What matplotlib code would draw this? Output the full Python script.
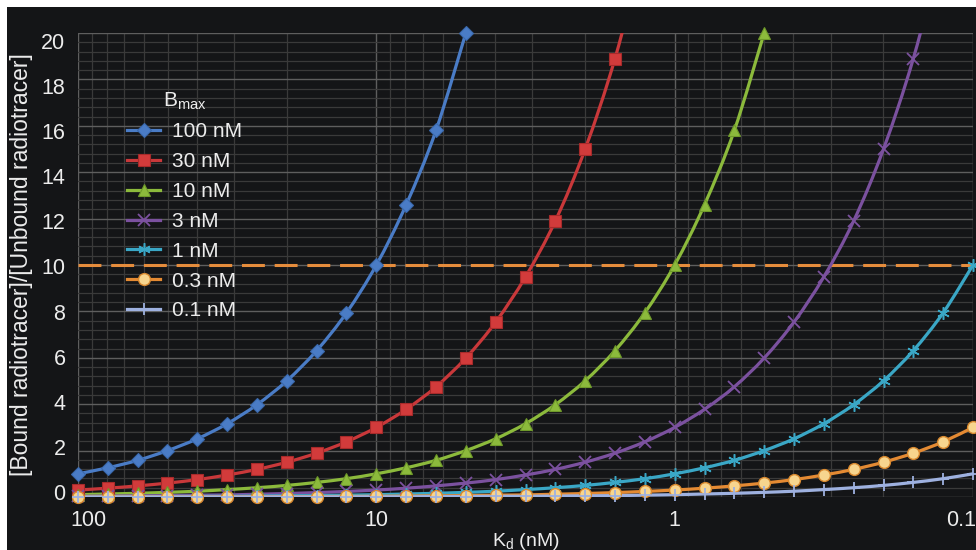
import matplotlib
matplotlib.use('Agg')
import numpy as np
import matplotlib.pyplot as plt
import matplotlib.transforms as mtransforms
from matplotlib.path import Path
from matplotlib.patches import PathPatch
from matplotlib.lines import Line2D
from matplotlib.ticker import LogLocator, MultipleLocator, FixedLocator, NullFormatter

# Kd 值（nM），每十倍程10个点
kd = [100, 79.43, 63.10, 50.12, 39.81, 31.62, 25.12, 19.95, 15.85, 12.59,
      10, 7.943, 6.310, 5.012, 3.981, 3.162, 2.512, 1.995, 1.585, 1.259,
      1, 0.7943, 0.6310, 0.5012, 0.3981, 0.3162, 0.2512, 0.1995, 0.1585, 0.1259, 0.1]

# [Bound]/[Unbound] 读数
b100 = [1.00, 1.26, 1.58, 2.00, 2.51, 3.16, 3.98, 5.01, 6.31, 7.94, 10.0, 12.6, 15.8, 20.0]
b30 = [0.30, 0.38, 0.48, 0.60, 0.75, 0.95, 1.19, 1.50, 1.89, 2.38, 3.00, 3.78, 4.75, 5.99,
       7.54, 9.49, 11.9, 15.0, 18.9, 23.8]
b10 = [0.10, 0.13, 0.16, 0.20, 0.25, 0.32, 0.40, 0.50, 0.63, 0.79, 1.00, 1.26, 1.58, 2.00,
       2.51, 3.16, 3.98, 5.01, 6.31, 7.94, 10.0, 12.6, 15.8, 20.0]
b3 = [0.03, 0.04, 0.05, 0.06, 0.08, 0.09, 0.12, 0.15, 0.19, 0.24, 0.30, 0.38, 0.48, 0.60,
      0.75, 0.95, 1.19, 1.50, 1.89, 2.38, 3.00, 3.78, 4.75, 5.99, 7.54, 9.49, 11.9, 15.0,
      18.9, 23.8]
b1 = [0.01, 0.01, 0.02, 0.02, 0.03, 0.03, 0.04, 0.05, 0.06, 0.08, 0.10, 0.13, 0.16, 0.20,
      0.25, 0.32, 0.40, 0.50, 0.63, 0.79, 1.00, 1.26, 1.58, 2.00, 2.51, 3.16, 3.98, 5.01,
      6.31, 7.94, 10.0]
b03 = [0.003, 0.004, 0.005, 0.006, 0.008, 0.009, 0.012, 0.015, 0.019, 0.024, 0.03, 0.04,
       0.05, 0.06, 0.08, 0.09, 0.12, 0.15, 0.19, 0.24, 0.30, 0.38, 0.48, 0.60, 0.75, 0.95,
       1.19, 1.50, 1.89, 2.38, 3.00]
b01 = [0.001, 0.001, 0.002, 0.002, 0.003, 0.003, 0.004, 0.005, 0.006, 0.008, 0.01, 0.01,
       0.02, 0.02, 0.03, 0.03, 0.04, 0.05, 0.06, 0.08, 0.10, 0.13, 0.16, 0.20, 0.25, 0.32,
       0.40, 0.50, 0.63, 0.79, 1.00]

labels = ['100 nM', '30 nM', '10 nM', '3 nM', '1 nM', '0.3 nM', '0.1 nM']
series = [b100, b30, b10, b3, b1, b03, b01]
colors = ['#4a7cc6', '#c9383a', '#8cba3c', '#7b519f', '#3aa7c6', '#e48a33', '#9eb1e0']
# marker, size, face, edge, edge width
markers = [('D', 7, '#4a7cc6', '#3a69ad', 0.8),
           ('s', 8.5, '#d23b3b', '#a82a2a', 0.8),
           ('^', 9, '#8cba3c', '#6f9a2a', 0.8),
           ('x', 8, '#7b519f', '#7b519f', 1.3),
           ((6, 2, 0), 9, '#3aa7c6', '#3aa7c6', 1.1),
           ('o', 8.5, '#f7d58e', '#d9892f', 1.0),
           ('+', 8, '#9eb1e0', '#9eb1e0', 1.3)]
threshold = 10

bg = '#141517'
txt = '#ececec'
plt.rcParams['font.family'] = ['Liberation Sans', 'DejaVu Sans']


def smooth_path(xs, ys):
    # 平滑连线（类似Excel的平滑线），在log(x)空间里做Bezier控制点
    u = np.log10(xs)
    y = np.asarray(ys, float)
    n = len(u)
    verts = [(xs[0], y[0])]
    codes = [Path.MOVETO]
    for i in range(n - 1):
        i0, i2 = max(i - 1, 0), min(i + 2, n - 1)
        c1u = u[i] + (u[i + 1] - u[i0]) / 6
        c1y = y[i] + (y[i + 1] - y[i0]) / 6
        c2u = u[i + 1] - (u[i2] - u[i]) / 6
        c2y = y[i + 1] - (y[i2] - y[i]) / 6
        verts += [(10 ** c1u, c1y), (10 ** c2u, c2y), (xs[i + 1], y[i + 1])]
        codes += [Path.CURVE4] * 3
    return Path(verts, codes)


fig = plt.figure(figsize=(9.76, 5.5), dpi=100, facecolor='white')
# 上边和左边留一条白边
fig.patches.append(plt.Rectangle((7 / 976, 0), 1, 1 - 7 / 550, transform=fig.transFigure,
                                 facecolor=bg, edgecolor='none', zorder=-10))
ax = fig.add_axes([78 / 976, 53 / 550, 895 / 976, 464 / 550])
ax.set_facecolor(bg)

ax.set_xscale('log')
ax.set_xlim(100, 0.1)
ax.set_ylim(0, 20)

ax.xaxis.set_major_locator(FixedLocator([100, 10, 1, 0.1]))
ax.set_xticklabels(['100', '10', '1', '0.1'])
ax.xaxis.set_minor_locator(LogLocator(base=10, subs=range(2, 10)))
ax.xaxis.set_minor_formatter(NullFormatter())
ax.yaxis.set_major_locator(MultipleLocator(2))
ax.yaxis.set_minor_locator(MultipleLocator(0.4))

ax.grid(which='major', color='#5e5e5e', linewidth=1.0)
ax.grid(which='minor', color='#3a3a3a', linewidth=0.9)
ax.set_axisbelow(True)
for s in ax.spines.values():
    s.set_visible(False)
ax.tick_params(which='both', length=0, colors=txt, labelsize=15.5)
ax.tick_params(axis='x', pad=9)
ax.tick_params(axis='y', pad=9)
# y刻度标签略微错位（原图效果）
for v, t in zip(ax.get_yticks(), ax.get_yticklabels()):
    dy = (8 - 0.65 * (20 - v)) / 100
    t.set_transform(t.get_transform() + mtransforms.ScaledTranslation(0, -dy, fig.dpi_scale_trans))
# 两端的x刻度标签往里收
xl = ax.get_xticklabels()
xl[0].set_transform(xl[0].get_transform() + mtransforms.ScaledTranslation(0.1, 0, fig.dpi_scale_trans))
xl[-1].set_horizontalalignment('right')
xl[-1].set_transform(xl[-1].get_transform() + mtransforms.ScaledTranslation(0.03, 0, fig.dpi_scale_trans))

# 阈值虚线
ax.axhline(threshold, color='#e58c3c', linewidth=2.2, dashes=(7.5, 3.2), zorder=1)

handles = []
for vals, lab, c, (m, ms, fc, ec, mew) in zip(series, labels, colors, markers):
    xs = kd[:len(vals)]
    ax.add_patch(PathPatch(smooth_path(xs, vals), facecolor='none', edgecolor=c,
                           linewidth=2.3, capstyle='round', zorder=3))
    pts = [(x, y) for x, y in zip(xs, vals) if y <= 20.2]
    ax.plot([p[0] for p in pts], [p[1] for p in pts], linestyle='none', marker=m,
            markersize=ms, markerfacecolor=fc, markeredgecolor=ec,
            markeredgewidth=mew, clip_on=False, zorder=4)
    handles.append(Line2D([], [], color=c, linewidth=2.3, marker=m, markersize=ms,
                          markerfacecolor=fc, markeredgecolor=ec, markeredgewidth=mew))

ax.set_xlabel('K$_\\mathregular{d}$ (nM)', color=txt, fontsize=14, labelpad=0)
ax.set_ylabel('[Bound radiotracer]/[Unbound radiotracer]', color=txt, fontsize=16.5,
              labelpad=6)

leg = ax.legend(handles, labels, title='B$_\\mathregular{max}$', loc='upper left',
                bbox_to_anchor=(127 / 976, 1 - 90 / 550), bbox_transform=fig.transFigure,
                frameon=False, fontsize=15, title_fontsize=15, labelspacing=0.52,
                handlelength=1.6, handletextpad=0.55, borderpad=0, borderaxespad=0)
for t in leg.get_texts():
    t.set_color(txt)
leg.get_title().set_color(txt)

fig.savefig('out.png', dpi=100, facecolor=fig.get_facecolor())
